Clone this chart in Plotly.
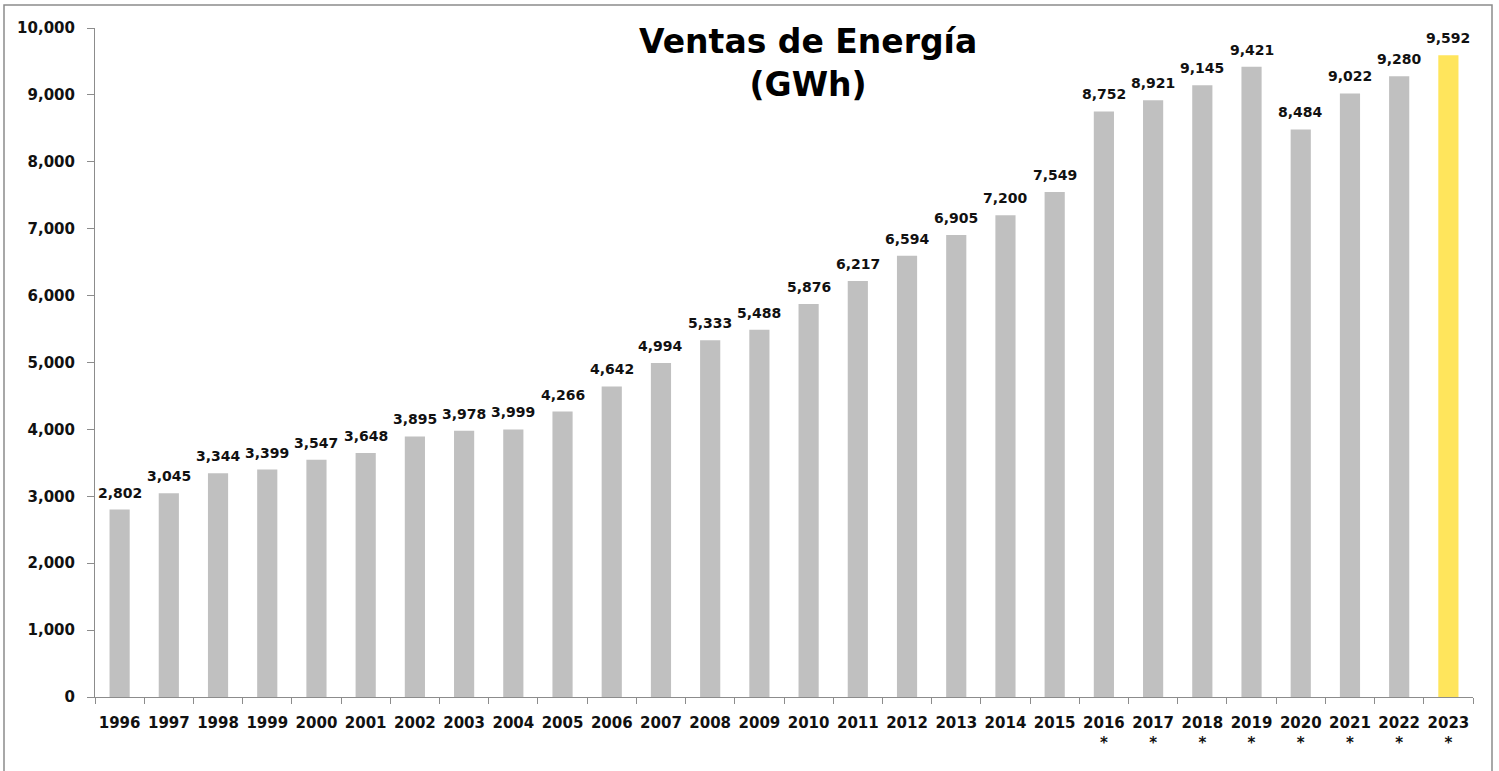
import plotly.graph_objects as go

years = [str(y) for y in range(1996, 2024)]
sales_gwh = [2802, 3045, 3344, 3399, 3547, 3648, 3895, 3978, 3999, 4266,
             4642, 4994, 5333, 5488, 5876, 6217, 6594, 6905, 7200, 7549,
             8752, 8921, 9145, 9421, 8484, 9022, 9280, 9592]
marked_years = ["2016", "2017", "2018", "2019", "2020", "2021", "2022", "2023"]
highlight_year = "2023"

tick_text = [f"{y}<br>*" if y in marked_years else y for y in years]
colors = ["#FFE55C" if y == highlight_year else "#C0C0C0" for y in years]

W, H = 1499, 771
L, R, T, B = 95, 26, 28, 74
pw, ph = W - L - R, H - T - B

def px_to_paper_x(px):
    return (px - L) / pw

def px_to_paper_y(py):
    return (H - B - py) / ph

font_family = "DejaVu Sans, Verdana, sans-serif"

fig = go.Figure(go.Bar(
    x=years, y=sales_gwh,
    marker=dict(color=colors, line=dict(width=0)),
    width=0.41,
    cliponaxis=False,
))

# value labels, placed on the category axis by category index
for i, val in enumerate(sales_gwh):
    fig.add_annotation(
        x=i, y=val, xref="x", yref="y",
        text=f"<b>{val:,}</b>",
        showarrow=False, xanchor="center", yanchor="bottom",
        yshift=7,
        font=dict(size=14, color="#111111", family=font_family),
    )

fig.update_layout(
    width=W, height=H,
    margin=dict(l=L, r=R, t=T, b=B),
    paper_bgcolor="white", plot_bgcolor="white",
    showlegend=False,
    font=dict(family=font_family, color="#111111"),
)

fig.update_yaxes(
    range=[0, 10000], dtick=1000, tickformat=",d",
    showgrid=False, zeroline=False,
    showline=True, linecolor="#8c8c8c", linewidth=1,
    ticks="outside", ticklen=7, tickcolor="#8c8c8c",
    tickfont=dict(size=15, color="#111111", family=font_family),
    ticklabelstandoff=9,
    tickprefix="<b>", ticksuffix="</b>",
)

fig.update_xaxes(
    type="category", categoryorder="array", categoryarray=years,
    range=[-0.5, len(years) - 0.5],
    tickmode="array", tickvals=years,
    ticktext=[f"<b>{t}</b>" for t in tick_text],
    tickson="boundaries",
    showgrid=False, showline=True, linecolor="#8c8c8c", linewidth=1,
    ticks="outside", ticklen=6, tickcolor="#8c8c8c",
    tickfont=dict(size=15, color="#111111", family=font_family),
    tickangle=0,
    ticklabelstandoff=12,
)

fig.add_annotation(
    text="<b>Ventas de Energía<br>(GWh)</b>",
    xref="paper", yref="paper",
    x=px_to_paper_x(808), y=px_to_paper_y(20),
    xanchor="center", yanchor="top",
    showarrow=False,
    font=dict(size=33, color="#000000", family=font_family),
)

fig.add_shape(
    type="rect", xref="paper", yref="paper",
    x0=px_to_paper_x(4), x1=px_to_paper_x(1492),
    y0=px_to_paper_y(775), y1=px_to_paper_y(5),
    line=dict(color="#8c8c8c", width=1.5), fillcolor="rgba(0,0,0,0)",
    layer="below",
)

fig.write_html("out.html", config={"displayModeBar": False},
               post_script="document.body.style.margin='0';")
